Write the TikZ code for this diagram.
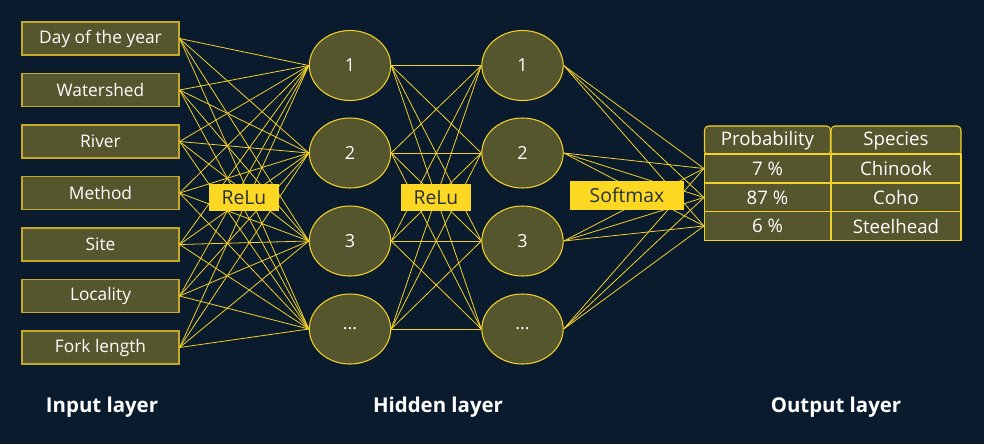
\documentclass[tikz,border=0pt]{standalone}
\usepackage{fontspec}
\setmainfont{Open Sans}
\usetikzlibrary{shapes.geometric}
\definecolor{bg}{HTML}{0A1B2E}
\definecolor{olive}{HTML}{55552E}
\definecolor{lineY}{HTML}{F2D02A}
\definecolor{boxB}{HTML}{C4A92E}
\definecolor{lblY}{HTML}{FDD823}
\definecolor{lblT}{HTML}{28313C}
\begin{document}
\begin{tikzpicture}[x=0.75pt,y=-0.75pt,
  inbox/.style={draw=boxB,line width=0.9pt,fill=olive,text=white,minimum width=117.75pt,minimum height=24.75pt,inner sep=0pt,font=\fontsize{13}{15}\selectfont},
  neuron/.style={ellipse,draw=lineY,line width=0.8pt,fill=olive,text=white,minimum width=61pt,minimum height=52.5pt,inner sep=0pt,font=\fontsize{13.5}{15}\selectfont},
  conn/.style={lineY,line width=0.6pt},
  actlbl/.style={fill=lblY,text=lblT,inner sep=0pt,font=\fontsize{14.5}{16}\selectfont},
  cell/.style={draw=lineY,line width=0.8pt,fill=olive,text=white,inner sep=0pt,minimum height=21.75pt,font=\fontsize{14}{16}\selectfont},
  layerlbl/.style={text=white,font=\bfseries\fontsize{15.3}{18}\selectfont}]
\fill[bg] (0,0) rectangle (984,444);
\useasboundingbox (0,0) rectangle (984,444);

% input nodes
\node[inbox] (in1) at (100.5,38.5) {Day of the year};
\node[inbox] (in2) at (100.5,90) {Watershed};
\node[inbox] (in3) at (100.5,141.5) {River};
\node[inbox] (in4) at (100.5,193) {Method};
\node[inbox] (in5) at (100.5,244.5) {Site};
\node[inbox] (in6) at (100.5,296) {Locality};
\node[inbox] (in7) at (100.5,347.5) {Fork length};

% hidden layers
\node[neuron] (ha1) at (350,65.5) {1};
\node[neuron] (ha2) at (350,153) {2};
\node[neuron] (ha3) at (350,241) {3};
\node[neuron] (ha4) at (350,329) {...};
\node[neuron] (hb1) at (522.5,65.5) {1};
\node[neuron] (hb2) at (522.5,153) {2};
\node[neuron] (hb3) at (522.5,241) {3};
\node[neuron] (hb4) at (522.5,329) {...};

% output table
\node[cell,minimum width=94.5pt,rounded corners=3pt] (ph) at (767.5,140.5) {Probability};
\node[cell,minimum width=97.5pt,rounded corners=3pt] (sh) at (896,140.5) {Species};
\node[cell,minimum width=94.5pt] (p1) at (767.5,168.5) {7 \%};
\node[cell,minimum width=97.5pt] (s1) at (896,168.5) {Chinook};
\node[cell,minimum width=94.5pt] (p2) at (767.5,197.5) {87 \%};
\node[cell,minimum width=97.5pt] (s2) at (896,197.5) {Coho};
\node[cell,minimum width=94.5pt] (p3) at (767.5,226) {6 \%};
\node[cell,minimum width=97.5pt] (s3) at (896,226) {Steelhead};

% connectors
\foreach \i in {1,...,7}{\foreach \j in {1,...,4}{\draw[conn] (in\i.east) -- (ha\j.west);}}
\foreach \i in {1,...,4}{\foreach \j in {1,...,4}{\draw[conn] (ha\i.east) -- (hb\j.west);}}
\foreach \i in {1,...,4}{\foreach \j in {1,...,3}{\draw[conn] (hb\i.east) -- (p\j.west);}}

% activation labels
\node[actlbl,minimum width=52.5pt,minimum height=20pt] (relu1) at (244,197.5) {ReLu};
\node[actlbl,minimum width=52.5pt,minimum height=20pt] (relu2) at (436,197.5) {ReLu};
\node[actlbl,minimum width=85.5pt,minimum height=22pt] (soft) at (627,195.5) {Softmax};

% layer labels
\node[layerlbl] (linput) at (102,407) {Input layer};
\node[layerlbl] (lhidden) at (438,407) {Hidden layer};
\node[layerlbl] (loutput) at (836,407) {Output layer};
\end{tikzpicture}
\end{document}
